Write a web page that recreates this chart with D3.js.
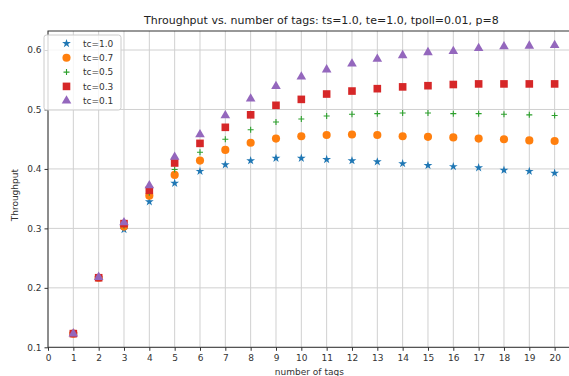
<!DOCTYPE html>
<html>
<head>
<meta charset="utf-8">
<script src="https://cdn.jsdelivr.net/npm/d3@7"></script>
<style>
  body { margin: 0; background: #fff; }
  svg { display: block; font-family: "DejaVu Sans", sans-serif; }
</style>
</head>
<body>
<div id="chart"></div>
<script>
// data
const tags = [1, 2, 3, 4, 5, 6, 7, 8, 9, 10, 11, 12, 13, 14, 15, 16, 17, 18, 19, 20];
const tc10 = [0.123, 0.217, 0.298, 0.345, 0.376, 0.396, 0.407, 0.414, 0.418, 0.418, 0.416, 0.414, 0.412, 0.409, 0.406, 0.404, 0.402, 0.398, 0.396, 0.393];
const tc07 = [0.123, 0.217, 0.303, 0.355, 0.390, 0.414, 0.432, 0.444, 0.451, 0.455, 0.457, 0.458, 0.457, 0.455, 0.454, 0.453, 0.451, 0.450, 0.448, 0.447];
const tc05 = [0.123, 0.217, 0.305, 0.360, 0.399, 0.428, 0.450, 0.466, 0.479, 0.484, 0.489, 0.492, 0.493, 0.494, 0.494, 0.493, 0.493, 0.492, 0.491, 0.490];
const tc03 = [0.123, 0.217, 0.308, 0.364, 0.410, 0.443, 0.470, 0.491, 0.507, 0.517, 0.526, 0.531, 0.535, 0.538, 0.540, 0.542, 0.543, 0.543, 0.543, 0.543];
const tc01 = [0.123, 0.218, 0.310, 0.372, 0.420, 0.458, 0.490, 0.518, 0.539, 0.555, 0.567, 0.577, 0.585, 0.591, 0.596, 0.598, 0.603, 0.606, 0.607, 0.608];
const seriesNames = ['tc=1.0', 'tc=0.7', 'tc=0.5', 'tc=0.3', 'tc=0.1'];
const xTicks = d3.range(0, 21);
const yTicks = [0.1, 0.2, 0.3, 0.4, 0.5, 0.6];
const titleText = 'Throughput vs. number of tags: ts=1.0, te=1.0, tpoll=0.01, p=8';

// matplotlib style '+' marker (thin strokes)
const plusSym = {
    draw(ctx, size) {
        let r = Math.sqrt(size) / 2;
        ctx.moveTo(-r, 0); ctx.lineTo(r, 0);
        ctx.moveTo(0, -r); ctx.lineTo(0, r);
    }
};

const series = [
    {name: seriesNames[0], vals: tc10, color: '#1f77b4', type: d3.symbolStar, size: 24, stroke: false},
    {name: seriesNames[1], vals: tc07, color: '#ff7f0e', type: d3.symbolCircle, size: 52, stroke: false},
    {name: seriesNames[2], vals: tc05, color: '#2ca02c', type: plusSym, size: 36, stroke: true},
    {name: seriesNames[3], vals: tc03, color: '#d62728', type: d3.symbolSquare, size: 58, stroke: false},
    {name: seriesNames[4], vals: tc01, color: '#9467bd', type: d3.symbolTriangle, size: 40, stroke: false}
];

const W = 569, H = 376;
const mLeft = 48, mTop = 31, mRight = 578.7, mBottom = 347.3;

let svg = d3.select('#chart').append('svg')
    .attr('width', W)
    .attr('height', H);

let x = d3.scaleLinear().domain([0, 20.95]).range([mLeft, mRight]);
let y = d3.scaleLinear().domain([0.1, 0.632]).range([mBottom, mTop]);

// grid
let grid = svg.append('g');
grid.selectAll('.gx')
    .data(xTicks)
    .join('line')
    .attr('x1', d => x(d)).attr('x2', d => x(d))
    .attr('y1', mTop).attr('y2', mBottom)
    .attr('stroke', '#d0d0d0').attr('stroke-width', 1);
grid.selectAll('.gy')
    .data(yTicks)
    .join('line')
    .attr('x1', mLeft).attr('x2', mRight)
    .attr('y1', d => y(d)).attr('y2', d => y(d))
    .attr('stroke', '#d0d0d0').attr('stroke-width', 1);

// axes
let xAxis = svg.append('g')
    .attr('transform', `translate(0,${mBottom})`)
    .call(d3.axisBottom(x).tickValues(xTicks).tickFormat(d3.format('d')).tickSize(3.5).tickPadding(3.5));
let yAxis = svg.append('g')
    .attr('transform', `translate(${mLeft},0)`)
    .call(d3.axisLeft(y).tickValues(yTicks).tickFormat(d3.format('.1f')).tickSize(3.5).tickPadding(3));

for (let ax of [xAxis, yAxis]) {
    ax.select('.domain').remove();
    ax.selectAll('line').attr('stroke', '#333');
    ax.selectAll('text')
        .attr('fill', '#333')
        .style('font-size', '9px')
        .style('font-family', '"DejaVu Sans", sans-serif');
}

// spines
svg.append('rect')
    .attr('x', mLeft).attr('y', mTop)
    .attr('width', mRight - mLeft).attr('height', mBottom - mTop)
    .attr('fill', 'none')
    .attr('stroke', '#333')
    .attr('stroke-width', 1);

// points
for (let s of series) {
    let sym = d3.symbol().type(s.type).size(s.size);
    svg.append('g')
        .selectAll('path')
        .data(tags.map((t, i) => [t, s.vals[i]]))
        .join('path')
        .attr('d', sym)
        .attr('transform', d => `translate(${x(d[0])},${y(d[1])})`)
        .attr('fill', s.stroke ? 'none' : s.color)
        .attr('stroke', s.stroke ? s.color : 'none')
        .attr('stroke-width', s.stroke ? 1.1 : 0);
}

// title and labels
svg.append('text')
    .attr('x', (mLeft + mRight) / 2 + 8)
    .attr('y', 24)
    .attr('text-anchor', 'middle')
    .attr('fill', '#222')
    .style('font-size', '11px')
    .text(titleText);

svg.append('text')
    .attr('x', (mLeft + mRight) / 2 - 4)
    .attr('y', 375)
    .attr('text-anchor', 'middle')
    .attr('fill', '#333')
    .style('font-size', '9px')
    .text('number of tags');

svg.append('text')
    .attr('transform', `translate(18,${(mTop + mBottom) / 2 + 6}) rotate(-90)`)
    .attr('text-anchor', 'middle')
    .attr('fill', '#333')
    .style('font-size', '9px')
    .text('Throughput');

// legend
let lg = svg.append('g').attr('transform', 'translate(44,35)');
lg.append('rect')
    .attr('width', 77).attr('height', 75)
    .attr('rx', 2.5)
    .attr('fill', 'white').attr('fill-opacity', 0.8)
    .attr('stroke', '#cccccc');

let items = lg.selectAll('g.item')
    .data(series)
    .join('g')
    .attr('class', 'item')
    .attr('transform', (d, i) => `translate(0,${8.5 + i * 14.3})`);

items.append('path')
    .attr('transform', 'translate(22.5,0)')
    .attr('d', d => d3.symbol().type(d.type).size(d.size)())
    .attr('fill', d => d.stroke ? 'none' : d.color)
    .attr('stroke', d => d.stroke ? d.color : 'none')
    .attr('stroke-width', d => d.stroke ? 1.1 : 0);

items.append('text')
    .attr('x', 39)
    .attr('y', 3.3)
    .attr('fill', '#333')
    .style('font-size', '9px')
    .text(d => d.name);
</script>
</body>
</html>
